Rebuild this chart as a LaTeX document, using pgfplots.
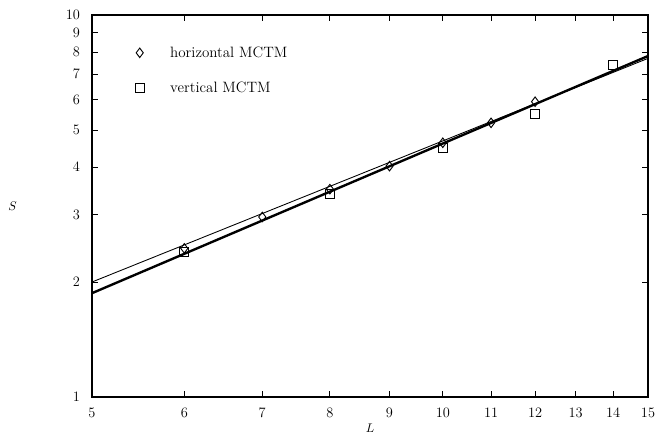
\documentclass[border=0pt]{standalone}
\usepackage{pgfplots}
\pgfplotsset{compat=1.18}
\usetikzlibrary{calc}

\pgfplotsset{
  myleg/.style={legend image code/.code={%
    \path (0cm,0cm) (1.08cm,0cm);
    \draw[mark repeat=2,mark phase=2,##1] plot coordinates {(0cm,0cm) (0.3cm,0cm) (1.08cm,0cm)};}},
}

\begin{document}
\begin{tikzpicture}
\begin{loglogaxis}[
    scale only axis,
    width=444.8pt, height=305.6pt,
    xmin=5, xmax=15, ymin=1, ymax=10,
    xtick={5,6,7,8,9,10,11,12,13,14,15},
    xticklabels={5,6,7,8,9,10,11,12,13,14,15},
    ytick={1,2,3,4,5,6,7,8,9,10},
    yticklabels={1,2,3,4,5,6,7,8,9,10},
    minor xtick={}, minor ytick={},
    tick align=inside,
    major tick length=4.5pt,
    every tick/.style={black, line width=0.7pt},
    axis line style={line width=0.9pt},
    tick label style={font=\fontsize{11.5}{13}\selectfont},
    xticklabel style={yshift=-5.3pt},
    yticklabel style={xshift=-6.1pt},
    xlabel={$L$}, ylabel={$S$},
    label style={font=\fontsize{11.5}{13}\selectfont},
    every axis x label/.style={at={(axis description cs:0.5,0)}, anchor=center, yshift=-25.3pt},
    every axis y label/.style={at={(axis description cs:0,0.5)}, anchor=center, xshift=-63.6pt},
    legend style={draw=none, fill=none, at={(axis description cs:0.059,0.931)},
        anchor=north west, font=\fontsize{12}{14}\selectfont, row sep=14pt},
    legend cell align=left,
]
    % fitted power laws
    \addplot[black, line width=0.7pt, forget plot] coordinates {(5,2.0) (15,7.7)};
    \addplot[black, line width=1.9pt, forget plot] coordinates {(5,1.87) (15,7.81)};

    \addplot[only marks, mark=diamond, mark size=3.8pt, mark options={black, line width=0.75pt}, myleg]
        coordinates {(6,2.45) (7,2.96) (8,3.50) (9,4.02) (10,4.63) (11,5.22) (12,5.93)};
    \addplot[only marks, mark=square, mark size=3.6pt, mark options={black, line width=0.75pt}, myleg]
        coordinates {(6,2.39) (8,3.41) (10,4.48) (12,5.51) (14,7.41)};

    \legend{horizontal MCTM, vertical MCTM}
\end{loglogaxis}
\pgfresetboundingbox
\path ($(current axis.south west)+(-73.6pt,-29.6pt)$) rectangle ($(current axis.north east)+(7.2pt,12pt)$);
\end{tikzpicture}
\end{document}
